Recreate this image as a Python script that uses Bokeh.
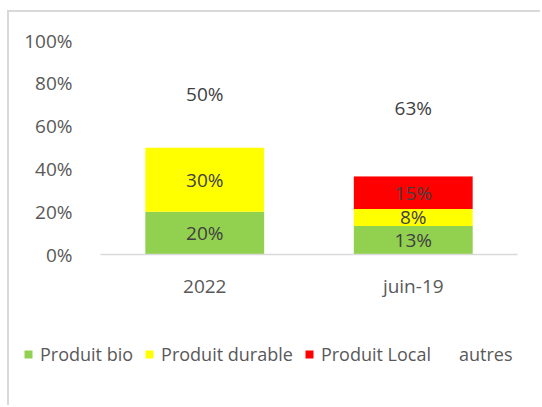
import numpy as np
from bokeh.plotting import figure
from bokeh.layouts import column
from bokeh.models import (ColumnDataSource, FactorRange, Range1d, LabelSet, Legend,
                          LegendItem, FixedTicker, CustomJSTickFormatter, CanvasTexture)
from bokeh.embed import file_html
from bokeh.resources import INLINE
from bokeh.core.properties import value

categories = ["2022", "juin-19"]
series = ["Produit bio", "Produit durable", "Produit Local", "autres"]
bio = [20.0, 13.3]
durable = [30.0, 8.0]
local = [0.0, 15.3]
autres = [50.0, 63.4]
y_ticks = [0, 20, 40, 60, 80, 100]

colors = ["#92D050", "#FFFF00", "#FF0000", "#FFFFFF"]
FONT = "Open Sans"

vals = np.array([bio, durable, local, autres])
tops = np.cumsum(vals, axis=0)
bottoms = tops - vals

OX, OY = 9, 12          # canvas offset (margin + border line)
W = 542 - OX
SPLIT = 312             # page y where the legend strip starts
H1 = SPLIT - OY
H2 = 407 - SPLIT

dots = CanvasTexture(code="""
ctx.fillStyle = '#FF0000';
ctx.fillRect(0, 0, 2, 2);
ctx.fillRect(Math.round(scale/2), Math.round(scale/2), 2, 2);
""")


def style_for(name):
    kw = dict(fill_color=colors[series.index(name)], line_color=None)
    if name == "autres":
        kw.update(hatch_pattern="reddots", hatch_extra={"reddots": dots},
                  hatch_color="#FF0000", hatch_scale=17, hatch_weight=1)
    return kw


p = figure(x_range=FactorRange(*categories), y_range=Range1d(0, 100),
           width=W, height=H1, output_backend="svg", toolbar_location=None,
           min_border_left=100 - OX, min_border_right=W - (517 - OX),
           min_border_top=40 - OY, min_border_bottom=H1 - (254 - OY))
p.frame_align = False
p.outline_line_color = None
p.background_fill_color = "white"
p.border_fill_color = "white"
p.xgrid.grid_line_color = None
p.ygrid.grid_line_color = None

for i, name in enumerate(series):
    src = ColumnDataSource(dict(x=categories, top=tops[i], bottom=bottoms[i]))
    p.vbar(x="x", top="top", bottom="bottom", width=0.57, source=src, **style_for(name))

lx, ly, lt = [], [], []
for i in range(len(series)):
    for j, c in enumerate(categories):
        v = vals[i][j]
        if v > 0:
            lx.append(c)
            ly.append((tops[i][j] + bottoms[i][j]) / 2)
            lt.append(f"{round(v):d}%")
lsrc = ColumnDataSource(dict(x=lx, y=ly, t=lt))
p.add_layout(LabelSet(x="x", y="y", text="t", source=lsrc, text_align="center",
                      text_baseline="middle", text_font=value(FONT), text_font_size="19px",
                      text_color="#404040"))

p.yaxis.ticker = FixedTicker(ticks=y_ticks)
p.yaxis.formatter = CustomJSTickFormatter(code="return tick + '%';")
p.yaxis.axis_line_color = None
p.yaxis.major_tick_line_color = None
p.yaxis.minor_tick_line_color = None
p.yaxis.major_label_standoff = 22
p.yaxis.major_label_text_font = FONT
p.yaxis.major_label_text_font_size = "19px"
p.yaxis.major_label_text_color = "#595959"

p.xaxis.axis_line_color = "#d9d9d9"
p.xaxis.axis_line_width = 1.5
p.xaxis.major_tick_line_color = None
p.xaxis.minor_tick_line_color = None
p.xaxis.major_label_standoff = 12
p.xaxis.major_label_text_font = FONT
p.xaxis.major_label_text_font_size = "19px"
p.xaxis.major_label_text_color = "#595959"

# legend strip (its own canvas so the legend may span the full width)
pl = figure(x_range=Range1d(0, 1), y_range=Range1d(0, 1), width=W, height=H2,
            output_backend="svg", toolbar_location=None,
            min_border_left=0, min_border_right=0, min_border_top=0, min_border_bottom=0)
pl.frame_align = False
pl.axis.visible = False
pl.grid.visible = False
pl.outline_line_color = None
proxies = []
for name in series:
    # legend proxies placed outside the visible range of the legend strip
    proxies.append(pl.vbar(x=[5], top=[6], bottom=[5], width=0.5, **style_for(name)))

legend_bottom = 366 - SPLIT
legend = Legend(items=[LegendItem(label=s, renderers=[r]) for s, r in zip(series, proxies)],
                orientation="horizontal", location=(23 - OX, H2 - legend_bottom),
                glyph_width=10, glyph_height=10, label_height=10, label_standoff=7,
                spacing=11, padding=0, margin=0, border_line_color=None,
                background_fill_alpha=0,
                label_text_font=FONT, label_text_font_size="18px", label_text_color="#595959")
pl.add_layout(legend, "center")

layout = column(p, pl, spacing=0,
                styles={"margin-left": "9px", "margin-top": "12px",
                        "box-shadow": "-2px -2px 0 0 #d9d9d9"})

open("out.html", "w").write(file_html(layout, INLINE))
